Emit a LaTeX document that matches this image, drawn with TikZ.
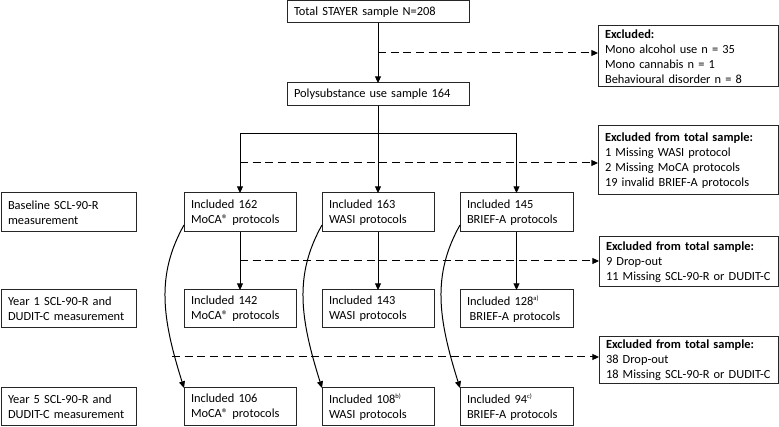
\documentclass[tikz,border=0pt]{standalone}
\usepackage{fontspec}
\setmainfont{Carlito}
\usetikzlibrary{arrows.meta}
\newcommand\bx[6]{%
  \pgfmathsetlengthmacro\bxw{(#4-#2)*0.75pt}%
  \pgfmathsetlengthmacro\bxh{(#5-#3)*0.75pt}%
  \pgfmathsetlengthmacro\bxt{(#4-#2-14)*0.75pt}%
  \node[bx, minimum width=\bxw, minimum height=\bxh, text width=\bxt, anchor=north west] (#1) at (#2,#3) {#6};}
\newcommand\sps[1]{\textsuperscript{\scalebox{0.75}{#1}}}
\begin{document}
\begin{tikzpicture}[x=0.75pt,y=-0.75pt,
  font=\fontsize{9.3}{11.1}\selectfont,
  bx/.style={draw=black!85, line width=0.75pt, inner xsep=5.25pt, inner ysep=2pt, outer sep=0pt, align=left},
  arr/.style={line width=0.75pt, -{Triangle[length=5pt,width=4.5pt]}},
  ln/.style={line width=0.75pt},
  dsh/.style={line width=0.75pt, dash pattern=on 6pt off 3.5pt, -{Triangle[length=5pt,width=4.5pt]}}]
\useasboundingbox (0,0) rectangle (779,427);
\bx{total}{287}{1}{469}{23}{\mbox{Total STAYER sample N=208}}
\bx{poly}{287}{83}{469}{106}{\mbox{Polysubstance use sample 164}}
\bx{ex1}{598}{26}{778}{87}{\textbf{Excluded:}\\Mono alcohol use n = 35\\Mono cannabis n = 1\\Behavioural disorder n = 8}
\bx{ex2}{598}{126}{778}{195}{\textbf{Excluded from total sample:}\\1 Missing WASI protocol\\2 Missing MoCA protocols\\19 invalid BRIEF-A protocols}
\bx{ex3}{599}{237}{778}{287}{\textbf{Excluded from total sample:}\\9 Drop-out\\\mbox{11 Missing SCL-90-R or DUDIT-C}}
\bx{ex4}{599}{337}{778}{384}{\textbf{Excluded from total sample:}\\38 Drop-out\\\mbox{18 Missing SCL-90-R or DUDIT-C}}
\bx{lab0}{1}{193}{136}{232}{Baseline SCL-90-R\\measurement}
\bx{lab1}{1}{290}{136}{328}{Year 1 SCL-90-R and\\\mbox{DUDIT-C measurement}}
\bx{lab5}{1}{388}{136}{426}{Year 5 SCL-90-R and\\\mbox{DUDIT-C measurement}}
\bx{moca0}{184}{193}{296}{232}{Included 162\\MoCA® protocols}
\bx{wasi0}{322}{193}{434}{232}{Included 163\\WASI protocols}
\bx{brief0}{460}{193}{573}{232}{Included 145\\BRIEF-A protocols}
\bx{moca1}{184}{290}{296}{328}{Included 142\\MoCA® protocols}
\bx{wasi1}{322}{290}{434}{328}{Included 143\\WASI protocols}
\bx{brief1}{460}{290}{573}{328}{Included 128\sps{a)}\\\hspace{2pt}BRIEF-A protocols}
\bx{moca5}{184}{388}{296}{426}{Included 106\\MoCA® protocols}
\bx{wasi5}{322}{388}{434}{426}{Included 108\sps{b)}\\WASI protocols}
\bx{brief5}{460}{388}{573}{426}{Included 94\sps{c)}\\BRIEF-A protocols}
% main flow
\draw[arr] (total.south) -- (poly.north);
\coordinate (d1) at (378,53);
\draw[dsh] (d1) -- (d1 -| ex1.west);
\draw[arr] (poly.south) -- (wasi0.north);
\coordinate (b) at (378,134);
\draw[ln] (b -| moca0.north) -- (b -| brief0.north);
\draw[arr] (b -| moca0.north) -- (moca0.north);
\draw[arr] (b -| brief0.north) -- (brief0.north);
\coordinate (d2) at (240,163);
\draw[dsh] (d2) -- (d2 -| ex2.west);
\draw[arr] (moca0.south) -- (moca1.north);
\draw[arr] (wasi0.south) -- (wasi1.north);
\draw[arr] (brief0.south) -- (brief1.north);
\coordinate (d3) at (240,261);
\draw[dsh] (d3) -- (d3 -| ex3.west);
\coordinate (d4) at (172,357);
\draw[dsh] (d4) -- (d4 -| ex4.west);
\foreach \c in {moca,wasi,brief}{
  \draw[arr] ([yshift=5.25pt]\c0.south west) .. controls +(-28,50) and +(-22,-70) .. (\c5.north west);
}
\end{tikzpicture}
\end{document}
